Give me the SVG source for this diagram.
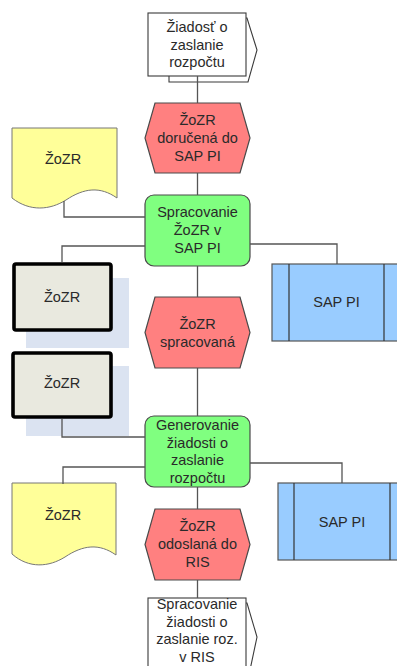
<svg xmlns="http://www.w3.org/2000/svg" width="397" height="666" viewBox="0 0 397 666">
<style>
text{font-family:"Liberation Sans",Arial,sans-serif;font-size:14.5px;fill:#2a2a2a;text-anchor:middle}
.c{fill:none;stroke:#555;stroke-width:1.3}
.ev{fill:#ff8080;stroke:#4a4a4a;stroke-width:1.2}
.fn{fill:#80ff80;stroke:#4a4a4a;stroke-width:1.2}
.doc{fill:#ffff99;stroke:#777;stroke-width:1}
.sys{fill:#99ccff;stroke:#555;stroke-width:1.2}
.sysl{stroke:#333;stroke-width:1.2}
.inf{fill:#fff;stroke:#3a3a3a;stroke-width:1.1}
.cl{fill:#e9e9df;stroke:#000;stroke-width:3.6}
.sh{fill:#dbe3f1}
</style>
<rect width="397" height="666" fill="#fff"/>
<g id="if-top">
<path class="inf" d="M169,18H247L257,50L248,82H169Z"/>
<rect class="inf" x="148" y="13" width="98" height="63"/>
<text x="197" y="32">Žiadosť o</text>
<text x="197" y="49.5">zaslanie</text>
<text x="197" y="67">rozpočtu</text>
</g>
<g id="ev1">
<polygon class="ev" points="155,103 240,103 250,138 240,173 155,173 145,138"/>
<text x="197.5" y="125">ŽoZR</text>
<text x="197.5" y="143">doručená do</text>
<text x="197.5" y="161">SAP PI</text>
</g>
<g id="doc1">
<path class="doc" d="M12,128H117V198C100,186 84,188 66,200C50,210 30,212 12,198Z"/>
<text x="63" y="164">ŽoZR</text>
</g>
<g id="fn1">
<rect class="fn" x="145" y="195" width="105" height="71" rx="9"/>
<text x="197.5" y="217">Spracovanie</text>
<text x="197.5" y="235">ŽoZR v</text>
<text x="197.5" y="253">SAP PI</text>
</g>
<g id="cl1">
<rect class="sh" x="26" y="278" width="103" height="70"/>
<rect class="cl" x="14" y="264" width="97" height="66" rx="2"/>
<text x="62" y="302">ŽoZR</text>
</g>
<g id="sys1">
<rect class="sys" x="272" y="264" width="129" height="77"/>
<line class="sysl" x1="289" y1="264" x2="289" y2="341"/>
<line class="sysl" x1="384" y1="264" x2="384" y2="341"/>
<text x="336.5" y="307">SAP PI</text>
</g>
<g id="ev2">
<polygon class="ev" points="155,297 240,297 250,332.5 240,368 155,368 145,332.5"/>
<text x="197.5" y="328.5">ŽoZR</text>
<text x="197.5" y="346.5">spracovaná</text>
</g>
<g id="cl2">
<rect class="sh" x="26" y="366" width="103" height="70"/>
<rect class="cl" x="13" y="353" width="98" height="64" rx="2"/>
<text x="62" y="388">ŽoZR</text>
</g>
<g id="fn2">
<rect class="fn" x="145" y="416" width="105" height="71" rx="9"/>
<text x="197.5" y="430">Generovanie</text>
<text x="197.5" y="447.5">žiadosti o</text>
<text x="197.5" y="465">zaslanie</text>
<text x="197.5" y="482.5">rozpočtu</text>
</g>
<g id="doc2">
<path class="doc" d="M12,483H116V555C99,543 83,545 65,557C49,567 29,569 12,554Z"/>
<text x="63" y="520">ŽoZR</text>
</g>
<g id="sys2">
<rect class="sys" x="278" y="483" width="129" height="77"/>
<line class="sysl" x1="294" y1="483" x2="294" y2="560"/>
<line class="sysl" x1="390" y1="483" x2="390" y2="560"/>
<text x="342" y="527">SAP PI</text>
</g>
<g id="ev3">
<polygon class="ev" points="155,509 240,509 250,544.5 240,580 155,580 145,544.5"/>
<text x="197.5" y="531">ŽoZR</text>
<text x="197.5" y="549">odoslaná do</text>
<text x="197.5" y="567">RIS</text>
</g>
<g id="if-bottom">
<path class="inf" d="M169,603H247L257,637L250,670H169Z"/>
<rect class="inf" x="148" y="598" width="98" height="75"/>
<text x="197" y="609">Spracovanie</text>
<text x="197" y="626.5">žiadosti o</text>
<text x="197" y="644">zaslanie roz.</text>
<text x="197" y="661.5">v RIS</text>
</g>
<g id="connectors">
<path class="c" d="M197.5,76V103M197.5,173V195M197.5,266V297M197.5,368V416M197.5,487V509M197.5,580V598"/>
<path class="c" d="M64,201V217H145"/>
<path class="c" d="M145,246H62V262"/>
<path class="c" d="M250,244H337V264"/>
<path class="c" d="M62,419V437H145"/>
<path class="c" d="M145,467H63V484"/>
<path class="c" d="M250,463H342V483"/>
</g>
</svg>
